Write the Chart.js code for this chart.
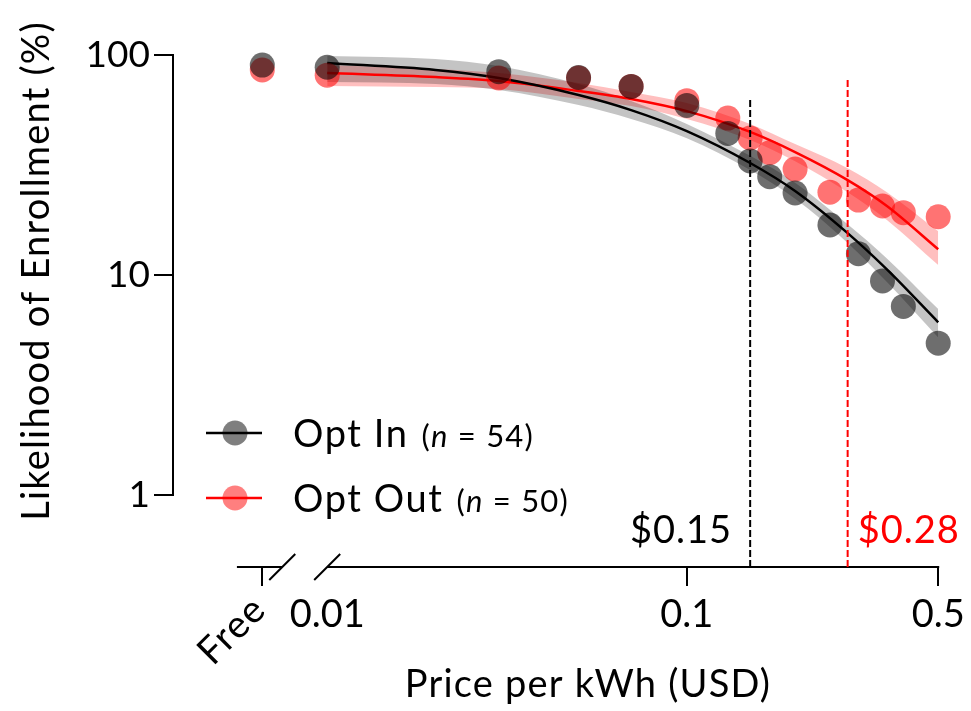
<!DOCTYPE html>
<html>
<head>
<meta charset="utf-8">
<script src="https://cdn.jsdelivr.net/npm/chart.js@4.4.1/dist/chart.umd.min.js"></script>
<style>
  body { margin: 0; background: #fff; }
</style>
</head>
<body>
<canvas id="chart" width="971" height="711"></canvas>
<script>
// ---------------------------------- chart data ----------------------------------
// "Free" is placed on the log axis just left of the break
const freePrice = 0.0066;
const prices = [freePrice, 0.01, 0.03, 0.05, 0.07, 0.1, 0.13, 0.15, 0.17, 0.2, 0.25, 0.3, 0.35, 0.4, 0.5];
const optInPct = [90, 88, 84, 79, 72, 59, 44, 33, 28, 23.6, 16.9, 12.5, 9.4, 7.2, 4.9];
const optOutPct = [85.5, 81, 78.6, 78.6, 72, 62, 51.7, 42, 36, 30.3, 23.8, 21.9, 20.6, 19.2, 18.4];

// fitted curves and their confidence bands
const fitPrices = [0.01, 0.02, 0.03, 0.05, 0.07, 0.1, 0.15, 0.2, 0.28, 0.36, 0.5];
const optInFit = [91.9, 85.5, 78.6, 65.8, 56.2, 45.1, 32.3, 24.1, 15.5, 10.6, 6.1];
const optInHi = [99, 95.9, 89.1, 73.8, 61.8, 48.6, 34.8, 26.3, 17.0, 11.9, 7.0];
const optInLo = [75.4, 73.8, 69.3, 59.2, 51.2, 41.9, 30.0, 22.2, 14.0, 9.3, 5.2];
const optOutFit = [82.8, 79.4, 76.2, 68.6, 63.1, 55.6, 44.7, 36.2, 27.0, 20.6, 13.1];
const optOutHi = [90.1, 86.4, 82.8, 74.6, 67.9, 60.5, 48.6, 39.4, 30.6, 23.8, 15.8];
const optOutLo = [72.3, 71.5, 70.0, 63.1, 58.6, 51.2, 41.1, 32.9, 23.8, 17.8, 11.1];

// threshold prices marked by dashed lines
const thresholdPrices = [0.15, 0.28];
const thresholdTops = [64, 77];
const thresholdLabels = ['$0.15', '$0.28'];

const xTicks = [freePrice, 0.01, 0.1, 0.5];
const yTicks = [1, 10, 100];

// ---------------------------------- helpers ----------------------------------
const FONT = 'Lato, "Open Sans", sans-serif';
const RED = '#ff0000';
const yMin = 0.471, yMax = 117;
const xMin = 0.003726, xMax = 0.5329;

const pts = (xs, ys) => xs.map((x, i) => ({x: x, y: ys[i]}));

function bandSet(ys, color, fill) {
    return {
        type: 'line', data: pts(fitPrices, ys), borderWidth: 0, pointRadius: 0,
        backgroundColor: color, fill: fill, cubicInterpolationMode: 'monotone', order: 10
    };
}

function dashSet(i, color) {
    return {
        type: 'line', data: [{x: thresholdPrices[i], y: yMin}, {x: thresholdPrices[i], y: thresholdTops[i]}],
        borderColor: color, borderWidth: 2, borderDash: [7, 3], pointRadius: 0, fill: false, order: -1
    };
}

function setSpacing(ctx, s) {
    if ('letterSpacing' in ctx) ctx.letterSpacing = s;
}

const overlay = {
    id: 'overlay',
    beforeDatasetsDraw(chart) {
        const ctx = chart.ctx, xs = chart.scales.x, ys = chart.scales.y;
        const area = chart.chartArea;
        ctx.save();
        ctx.strokeStyle = '#000';
        ctx.lineWidth = 2;
        // y axis, only between 1 and 100
        ctx.beginPath();
        ctx.moveTo(area.left, ys.getPixelForValue(1) + 1);
        ctx.lineTo(area.left, ys.getPixelForValue(100) - 1);
        // broken x axis
        const yb = area.bottom;
        const b1 = xs.getPixelForValue(0.0075), b2 = xs.getPixelForValue(0.01);
        ctx.moveTo(xs.getPixelForValue(0.00561), yb);
        ctx.lineTo(b1, yb);
        ctx.moveTo(b2, yb);
        ctx.lineTo(xs.getPixelForValue(0.5) + 1, yb);
        ctx.moveTo(b1 - 13, yb + 13); ctx.lineTo(b1 + 13, yb - 13);
        ctx.moveTo(b2 - 13, yb + 13); ctx.lineTo(b2 + 13, yb - 13);
        ctx.stroke();
        ctx.restore();
    },
    afterDraw(chart) {
        const ctx = chart.ctx, xs = chart.scales.x;
        ctx.save();
        ctx.fillStyle = '#000';

        // axis titles
        ctx.font = '38px ' + FONT;
        setSpacing(ctx, '1.2px');
        ctx.textAlign = 'center';
        ctx.textBaseline = 'middle';
        ctx.fillText('Price per kWh (USD)', 588, 685);
        ctx.save();
        ctx.translate(37, 271);
        ctx.rotate(-Math.PI / 2);
        ctx.fillText('Likelihood of Enrollment (%)', 0, 0);
        ctx.restore();

        // rotated "Free" tick label
        ctx.save();
        ctx.translate(xs.getPixelForValue(freePrice) - 3, 603);
        ctx.rotate(-Math.PI / 4);
        ctx.textAlign = 'right';
        ctx.fillText('Free', 0, 0);
        ctx.restore();

        // threshold labels
        ctx.font = '38px ' + FONT;
        setSpacing(ctx, '1px');
        ctx.textBaseline = 'alphabetic';
        ctx.textAlign = 'right';
        ctx.fillText(thresholdLabels[0], xs.getPixelForValue(thresholdPrices[0]) - 18, 543);
        ctx.fillStyle = RED;
        ctx.textAlign = 'left';
        ctx.fillText(thresholdLabels[1], xs.getPixelForValue(thresholdPrices[1]) + 10, 543);

        // legend
        const items = [
            {name: 'Opt In', n: '54', line: '#000', dot: 'rgba(0,0,0,0.5)', y: 433},
            {name: 'Opt Out', n: '50', line: RED, dot: 'rgba(255,0,0,0.5)', y: 498}
        ];
        ctx.textAlign = 'left';
        items.forEach(function(it) {
            ctx.strokeStyle = it.line;
            ctx.lineWidth = 2.5;
            ctx.beginPath();
            ctx.moveTo(206, it.y);
            ctx.lineTo(262, it.y);
            ctx.stroke();
            ctx.fillStyle = it.dot;
            ctx.beginPath();
            ctx.arc(235, it.y, 12.5, 0, Math.PI * 2);
            ctx.fill();

            ctx.fillStyle = '#000';
            let x = 293;
            const base = it.y + 14;
            ctx.font = '38px ' + FONT;
            setSpacing(ctx, '1.6px');
            ctx.fillText(it.name, x, base);
            x += ctx.measureText(it.name).width + 13;
            setSpacing(ctx, '1.2px');
            ctx.font = '31px ' + FONT;
            ctx.fillText('(', x, base);
            x += ctx.measureText('(').width;
            ctx.font = 'italic 31px ' + FONT;
            ctx.fillText('n', x, base);
            x += ctx.measureText('n').width;
            ctx.font = '31px ' + FONT;
            ctx.fillText(' = ' + it.n + ')', x, base);
        });
        ctx.restore();
    }
};

const chart = new Chart(document.getElementById('chart'), {
    type: 'line',
    data: {
        datasets: [
            dashSet(0, '#000'),
            dashSet(1, RED),
            {
                type: 'line', label: 'Opt In', data: pts(prices, optInPct), showLine: false,
                pointRadius: 12.5, pointBorderWidth: 0, pointBackgroundColor: 'rgba(0,0,0,0.57)', order: 1
            },
            {
                type: 'line', label: 'Opt Out', data: pts(prices, optOutPct), showLine: false,
                pointRadius: 12.5, pointBorderWidth: 0, pointBackgroundColor: 'rgba(255,0,0,0.55)', order: 2
            },
            {
                type: 'line', data: pts(fitPrices, optInFit), borderColor: '#000', borderWidth: 2.5,
                pointRadius: 0, fill: false, cubicInterpolationMode: 'monotone', order: 3
            },
            {
                type: 'line', data: pts(fitPrices, optOutFit), borderColor: RED, borderWidth: 2.5,
                pointRadius: 0, fill: false, cubicInterpolationMode: 'monotone', order: 4
            },
            bandSet(optInHi, 'rgba(0,0,0,0.23)', false),
            bandSet(optInLo, 'rgba(0,0,0,0.23)', '-1'),
            bandSet(optOutHi, 'rgba(255,0,0,0.25)', false),
            bandSet(optOutLo, 'rgba(255,0,0,0.25)', '-1')
        ]
    },
    options: {
        responsive: false,
        animation: false,
        events: [],
        clip: false,
        layout: {padding: {left: 0, top: 40, right: 21, bottom: 0}},
        plugins: {legend: {display: false}, tooltip: {enabled: false}},
        scales: {
            x: {
                type: 'logarithmic', min: xMin, max: xMax,
                afterBuildTicks: (scale) => { scale.ticks = xTicks.map(v => ({value: v})); },
                afterFit: (scale) => { scale.height = 144; },
                border: {display: false},
                grid: {
                    drawOnChartArea: false, tickLength: 19, lineWidth: 2,
                    tickColor: (c) => (c.tick && c.tick.value === 0.01) ? 'rgba(0,0,0,0)' : '#000'
                },
                ticks: {
                    autoSkip: false, maxRotation: 0, minRotation: 0, padding: 6, color: '#000',
                    font: {family: FONT, size: 38},
                    callback: (v) => v === freePrice ? '' : String(v)
                }
            },
            y: {
                type: 'logarithmic', min: yMin, max: yMax,
                afterBuildTicks: (scale) => { scale.ticks = yTicks.map(v => ({value: v})); },
                afterFit: (scale) => { scale.width = 173; },
                border: {display: false},
                grid: {drawOnChartArea: false, tickLength: 19, lineWidth: 2, tickColor: '#000'},
                ticks: {
                    autoSkip: false, padding: 4, color: '#000',
                    font: {family: FONT, size: 37},
                    callback: (v) => String(v)
                }
            }
        }
    },
    plugins: [overlay]
});
</script>
</body>
</html>
